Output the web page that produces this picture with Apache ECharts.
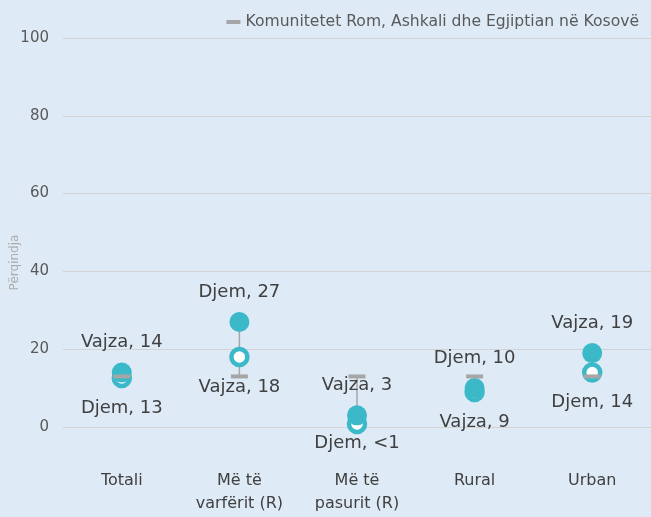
<!DOCTYPE html>
<html>
<head>
<meta charset="utf-8">
<script src="https://cdn.jsdelivr.net/npm/echarts@6/dist/echarts.min.js"></script>
<style>
  html, body { margin: 0; padding: 0; background: #DEEAF6; }
  #chart { width: 651px; height: 517px; }
</style>
</head>
<body>
<div id="chart"></div>
<script>
var categories = ['Totali', 'Më të\nvarfërit (R)', 'Më të\npasurit (R)', 'Rural', 'Urban'];
// filled marker (higher value) and hollow marker (lower value)
var highVals = [14, 27, 3, 10, 19];
var lowVals = [12.6, 18, 0.8, 9, 14];
var highLabels = ['Vajza, 14', 'Djem, 27', 'Vajza, 3', 'Djem, 10', 'Vajza, 19'];
var lowLabels = ['Djem, 13', 'Vajza, 18', 'Djem, <1', 'Vajza, 9', 'Djem, 14'];
var lowLabelDist = [11, 11, 0, 11, 11];
var communityVals = [13, 13, 13, 13, 13];
var communityName = 'Komunitetet Rom, Ashkali dhe Egjiptian në Kosovë';
var yTicks = [0, 20, 40, 60, 80, 100];

var teal = '#3BB9C8';
var grey = '#A6A6A6';
var font = 'DejaVu Sans';

var chartDom = document.getElementById('chart');
var myChart = echarts.init(chartDom);

var rangeData = categories.map(function (c, i) {
  var v = [highVals[i], lowVals[i], communityVals[i]];
  return [i, Math.min.apply(null, v), Math.max.apply(null, v)];
});

var highData = highVals.map(function (v, i) {
  return { value: v, label: { formatter: highLabels[i] } };
});
var lowData = lowVals.map(function (v, i) {
  return { value: v, label: { formatter: lowLabels[i], distance: lowLabelDist[i] } };
});

var option = {
  backgroundColor: '#DEEAF6',
  textStyle: { fontFamily: font },
  legend: {
    data: [{ name: communityName, icon: 'rect' }],
    right: 7,
    top: 9,
    itemWidth: 14,
    itemHeight: 4,
    itemGap: 5,
    textStyle: { color: '#595959', fontSize: 15.6, fontFamily: font }
  },
  grid: { left: 63, right: 0, top: 38, bottom: 90, containLabel: false, outerBoundsMode: 'none' },
  xAxis: {
    type: 'category',
    data: categories,
    axisLine: { show: false },
    axisTick: { show: false },
    axisLabel: {
      color: '#404040',
      fontSize: 16,
      lineHeight: 23,
      margin: 42,
      interval: 0,
      fontFamily: font
    }
  },
  yAxis: {
    type: 'value',
    min: yTicks[0],
    max: yTicks[yTicks.length - 1],
    interval: 20,
    name: 'Përqindja',
    nameLocation: 'middle',
    nameGap: 42,
    nameMoveOverlap: false,
    nameTextStyle: { color: '#ABABAB', fontSize: 12, padding: [0, 60, 0, 0], fontFamily: font },
    axisLine: { show: false },
    axisTick: { show: false },
    axisLabel: { color: '#595959', fontSize: 15, margin: 14, fontFamily: font },
    splitLine: { lineStyle: { color: '#D3D3D3', width: 1 } }
  },
  series: [
    {
      type: 'custom',
      name: 'range',
      z: 1,
      silent: true,
      data: rangeData,
      renderItem: function (params, api) {
        var top = api.coord([api.value(0), api.value(2)]);
        var bot = api.coord([api.value(0), api.value(1)]);
        return {
          type: 'line',
          shape: { x1: top[0], y1: top[1], x2: bot[0], y2: bot[1] },
          style: { stroke: grey, lineWidth: 1.5 }
        };
      }
    },
    {
      type: 'scatter',
      name: 'low',
      z: 2,
      symbol: 'circle',
      symbolSize: 16,
      itemStyle: { color: '#FFFFFF', borderColor: teal, borderWidth: 4.5, opacity: 1 },
      label: {
        show: true,
        position: 'bottom',
        color: '#404040',
        fontSize: 18,
        fontFamily: font
      },
      data: lowData
    },
    {
      type: 'scatter',
      name: 'high',
      z: 3,
      symbol: 'circle',
      symbolSize: 20,
      itemStyle: { color: teal, opacity: 1 },
      label: {
        show: true,
        position: 'top',
        distance: 11,
        color: '#404040',
        fontSize: 18,
        fontFamily: font
      },
      data: highData
    },
    {
      type: 'scatter',
      name: communityName,
      z: 4,
      symbol: 'rect',
      symbolSize: [17, 4],
      itemStyle: { color: grey, opacity: 1 },
      data: communityVals
    }
  ]
};

option && myChart.setOption(option);
</script>
</body>
</html>
